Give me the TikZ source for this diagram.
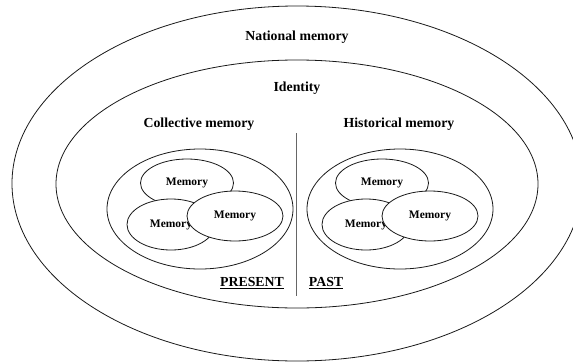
\documentclass[tikz,border=0pt]{standalone}
\usepackage{fontspec}
\setmainfont{Liberation Serif}
\usetikzlibrary{positioning}
\usetikzlibrary{shapes.geometric}

\begin{document}
\begin{tikzpicture}[x=1pt, y=-1pt,
    RING/.style={ellipse, draw=black!90, line width=0.8pt, inner sep=0pt},
    MEM/.style={RING, fill=white, minimum width=93pt, font=\bfseries\fontsize{11.5}{13}\selectfont},
    LBL/.style={font=\bfseries\fontsize{13.8}{16}\selectfont}]

    \useasboundingbox (0,0) rectangle (573,362);

    \node[RING, minimum width=570pt, minimum height=355pt] (NAT) at (297,183.5) {};
    \node[RING, minimum width=482pt, minimum height=248pt] (IDN) at (297,184) {};

    \node[LBL] (NATL) at (297,37) {National memory};
    \node[LBL] (IDNL) at (297,88) {Identity};
    \node[LBL] (COLL) at (199,124) {Collective memory};
    \node[LBL] (HISL) at (399,124) {Historical memory};

    % left group
    \node[RING, minimum width=186pt, minimum height=120pt] (GL) at (200,209) {};
    \node[MEM, minimum height=48pt] (ML1) at (187,183) {Memory};
    \node[MEM, minimum width=88pt, minimum height=51pt] (ML2) at (171,224.5) {Memory};
    \node[MEM, minimum width=96pt, minimum height=50pt] (ML3) at (235,216) {Memory};

    % right group
    \node[RING, minimum width=186pt, minimum height=120pt] (GR) at (400,209) {};
    \node[MEM, minimum height=48pt] (MR1) at (382,183) {Memory};
    \node[MEM, minimum width=88pt, minimum height=51pt] (MR2) at (366,224.5) {Memory};
    \node[MEM, minimum width=96pt, minimum height=50pt] (MR3) at (430,216) {Memory};

    \coordinate (TOP) at (296.5,133);
    \coordinate (BOT) at (296.5,296);
    \draw[black!60, line width=1.2pt] (TOP) -- (BOT);

    \node[LBL] (PRE) at (252,283) {\underline{PRESENT}};
    \node[LBL] (PST) at (326,283) {\underline{PAST}};
\end{tikzpicture}
\end{document}
